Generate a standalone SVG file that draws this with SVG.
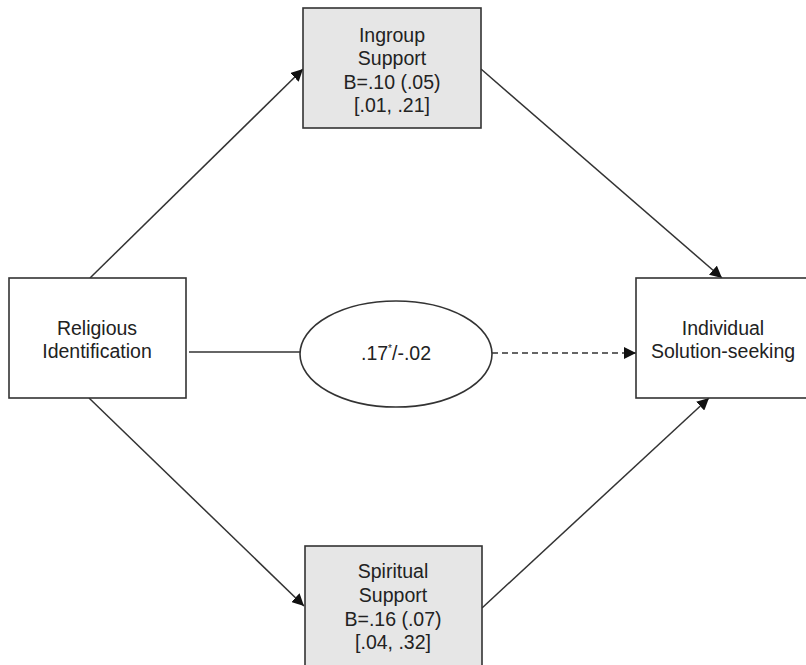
<svg xmlns="http://www.w3.org/2000/svg" width="806" height="665" viewBox="0 0 806 665">
<style>
.box{fill:#fff;stroke:#333;stroke-width:1.6}
.grey{fill:#e6e6e6}
.t{font-family:"Liberation Sans",Arial,sans-serif;font-size:19.5px;fill:#222;text-anchor:middle}
.c{stroke:#333;stroke-width:1.5;fill:none}
</style>
<defs>
<marker id="ah" viewBox="0 0 10 10" refX="10" refY="5" markerWidth="12" markerHeight="12" markerUnits="userSpaceOnUse" orient="auto">
<path d="M0,0 L10,5 L0,10 z" fill="#111"/>
</marker>
</defs>
<rect width="806" height="665" fill="#fff"/>
<g id="connectors">
<line class="c" x1="90" y1="278" x2="303" y2="69" marker-end="url(#ah)"/>
<line class="c" x1="481" y1="69" x2="722" y2="278" marker-end="url(#ah)"/>
<line class="c" x1="89" y1="398" x2="304" y2="606" marker-end="url(#ah)"/>
<line class="c" x1="482" y1="608" x2="709" y2="398" marker-end="url(#ah)"/>
<line class="c" x1="189" y1="352" x2="300" y2="352"/>
<line class="c" x1="492" y1="353" x2="636" y2="353" stroke-dasharray="6,4" marker-end="url(#ah)"/>
</g>
<g id="ingroup">
<rect class="box grey" x="303" y="8" width="178" height="120"/>
<text class="t" x="392" y="42">Ingroup</text>
<text class="t" x="392" y="65">Support</text>
<text class="t" x="392" y="89">B=.10 (.05)</text>
<text class="t" x="392" y="112">[.01, .21]</text>
</g>
<g id="spiritual">
<rect class="box grey" x="305" y="546" width="177" height="130"/>
<text class="t" x="393" y="578">Spiritual</text>
<text class="t" x="393" y="602">Support</text>
<text class="t" x="393" y="626">B=.16 (.07)</text>
<text class="t" x="393" y="649">[.04, .32]</text>
</g>
<g id="religious">
<rect class="box" x="9" y="278" width="177" height="120"/>
<text class="t" x="97" y="335">Religious</text>
<text class="t" x="97" y="358">Identification</text>
</g>
<g id="individual">
<rect class="box" x="636" y="278" width="180" height="120"/>
<text class="t" x="723" y="335">Individual</text>
<text class="t" x="723" y="358">Solution-seeking</text>
</g>
<g id="direct">
<ellipse class="box" cx="396" cy="354" rx="96" ry="53"/>
<text class="t" x="396" y="360">.17<tspan font-size="10" dy="-8">*</tspan><tspan dy="8">/-.02</tspan></text>
</g>
</svg>
